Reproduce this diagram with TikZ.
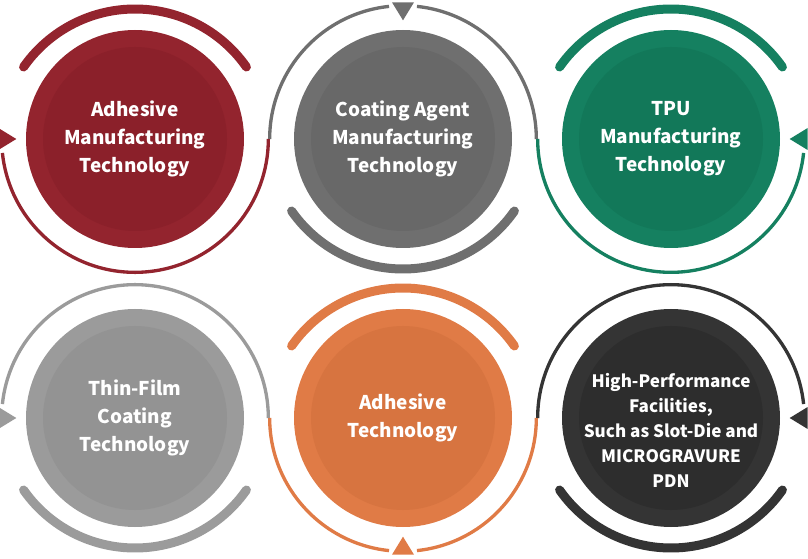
\documentclass[tikz,border=0pt]{standalone}
\usepackage{fontspec}
\setmainfont{Noto Sans CJK KR}
\usetikzlibrary{positioning,calc}

\definecolor{adhred}{RGB}{147,36,46}
\definecolor{adhredin}{RGB}{139,32,42}
\definecolor{coatgray}{RGB}{111,111,111}
\definecolor{coatgrayin}{RGB}{104,104,104}
\definecolor{tpugreen}{RGB}{21,128,96}
\definecolor{tpugreenin}{RGB}{18,120,89}
\definecolor{filmgray}{RGB}{155,155,155}
\definecolor{filmgrayin}{RGB}{147,147,147}
\definecolor{adhorange}{RGB}{224,123,70}
\definecolor{adhorangein}{RGB}{215,116,64}
\definecolor{facildark}{RGB}{52,52,52}
\definecolor{facildarkin}{RGB}{45,45,45}

\begin{document}
\begin{tikzpicture}[x=0.75pt, y=0.75pt, node distance=209.25pt and 201pt, on grid,
  disc/.style 2 args={circle, fill=#1, minimum size=163.5pt, inner sep=0pt, text=white, align=center,
    font=\bfseries\fontsize{14.2}{21}\selectfont,
    path picture={\fill[#2] (path picture bounding box.center) circle[radius=69pt];}},
  thinarc/.style={draw=#1, line width=2.5pt},
  thickarc/.style={draw=#1, line width=6.75pt, line cap=round}]

  \useasboundingbox (0,0) rectangle (808,558);

  % First row
  \node[disc={adhred}{adhredin}] (adh) at (135,419) {Adhesive\\Manufacturing\\Technology};
  \node[disc={coatgray}{coatgrayin}, right=of adh] (coat) {Coating Agent\\Manufacturing\\Technology};
  \node[disc={tpugreen}{tpugreenin}, right=of coat] (tpu) {TPU\\Manufacturing\\Technology};

  % Second row
  \node[disc={filmgray}{filmgrayin}, below=of adh] (film) {Thin-Film\\Coating\\Technology};
  \node[disc={adhorange}{adhorangein}, right=of film] (adht) {Adhesive\\Technology};
  \node[disc={facildark}{facildarkin}, right=of adht] (facil) {};
  \node[text=white, align=center, font=\bfseries\fontsize{12.8}{18.75}\selectfont, yshift=-9pt] (faciltext) at (facil.center)
    {High-Performance\\Facilities,\\Such as Slot-Die and\\MICROGRAVURE\\PDN};

  % thick arcs
  \draw[thickarc=adhred] ($(adh.center)+(0,-4.5pt)+(35:102pt)$) arc[start angle=35, end angle=145, radius=102pt];
  \draw[thickarc=coatgray] ($(coat.center)+(0,4.5pt)+(215:102pt)$) arc[start angle=215, end angle=325, radius=102pt];
  \draw[thickarc=tpugreen] ($(tpu.center)+(0,-4.5pt)+(35:102pt)$) arc[start angle=35, end angle=145, radius=102pt];
  \draw[thickarc=filmgray] ($(film.center)+(0,4.5pt)+(215:102pt)$) arc[start angle=215, end angle=325, radius=102pt];
  \draw[thickarc=adhorange] ($(adht.center)+(0,-4.5pt)+(35:102pt)$) arc[start angle=35, end angle=145, radius=102pt];
  \draw[thickarc=facildark] ($(facil.center)+(0,4.5pt)+(215:102pt)$) arc[start angle=215, end angle=325, radius=102pt];

  % thin arcs
  \draw[thinarc=adhred] ($(adh.center)+(186:100pt)$) arc[start angle=186, end angle=360, radius=100pt];
  \draw[thinarc=coatgray] ($(coat.center)+(180:100pt)$) arc[start angle=180, end angle=96, radius=100pt];
  \draw[thinarc=coatgray] ($(coat.center)+(84:100pt)$) arc[start angle=84, end angle=0, radius=100pt];
  \draw[thinarc=tpugreen] ($(tpu.center)+(180:100pt)$) arc[start angle=180, end angle=354, radius=100pt];
  \draw[thinarc=filmgray] ($(film.center)+(174:100pt)$) arc[start angle=174, end angle=0, radius=100pt];
  \draw[thinarc=adhorange] ($(adht.center)+(180:100pt)$) arc[start angle=180, end angle=264, radius=100pt];
  \draw[thinarc=adhorange] ($(adht.center)+(276:100pt)$) arc[start angle=276, end angle=360, radius=100pt];
  \draw[thinarc=facildark] ($(facil.center)+(180:100pt)$) arc[start angle=180, end angle=6, radius=100pt];

  % arrow heads
  \fill[adhred] ($(adh.center)+(180:89pt)$) -- ($(adh.center)+(180:102.5pt)+(90:8.25pt)$) -- ($(adh.center)+(180:102.5pt)+(-90:8.25pt)$) -- cycle;
  \fill[coatgray] ($(coat.center)+(90:89pt)$) -- ($(coat.center)+(90:102.5pt)+(180:8.25pt)$) -- ($(coat.center)+(90:102.5pt)+(0:8.25pt)$) -- cycle;
  \fill[tpugreen] ($(tpu.center)+(0:89pt)$) -- ($(tpu.center)+(0:102.5pt)+(90:8.25pt)$) -- ($(tpu.center)+(0:102.5pt)+(-90:8.25pt)$) -- cycle;
  \fill[filmgray] ($(film.center)+(180:89pt)$) -- ($(film.center)+(180:102.5pt)+(90:8.25pt)$) -- ($(film.center)+(180:102.5pt)+(-90:8.25pt)$) -- cycle;
  \fill[adhorange] ($(adht.center)+(270:89pt)$) -- ($(adht.center)+(270:102.5pt)+(180:8.25pt)$) -- ($(adht.center)+(270:102.5pt)+(0:8.25pt)$) -- cycle;
  \fill[facildark] ($(facil.center)+(0:89pt)$) -- ($(facil.center)+(0:102.5pt)+(90:8.25pt)$) -- ($(facil.center)+(0:102.5pt)+(-90:8.25pt)$) -- cycle;

\end{tikzpicture}
\end{document}
